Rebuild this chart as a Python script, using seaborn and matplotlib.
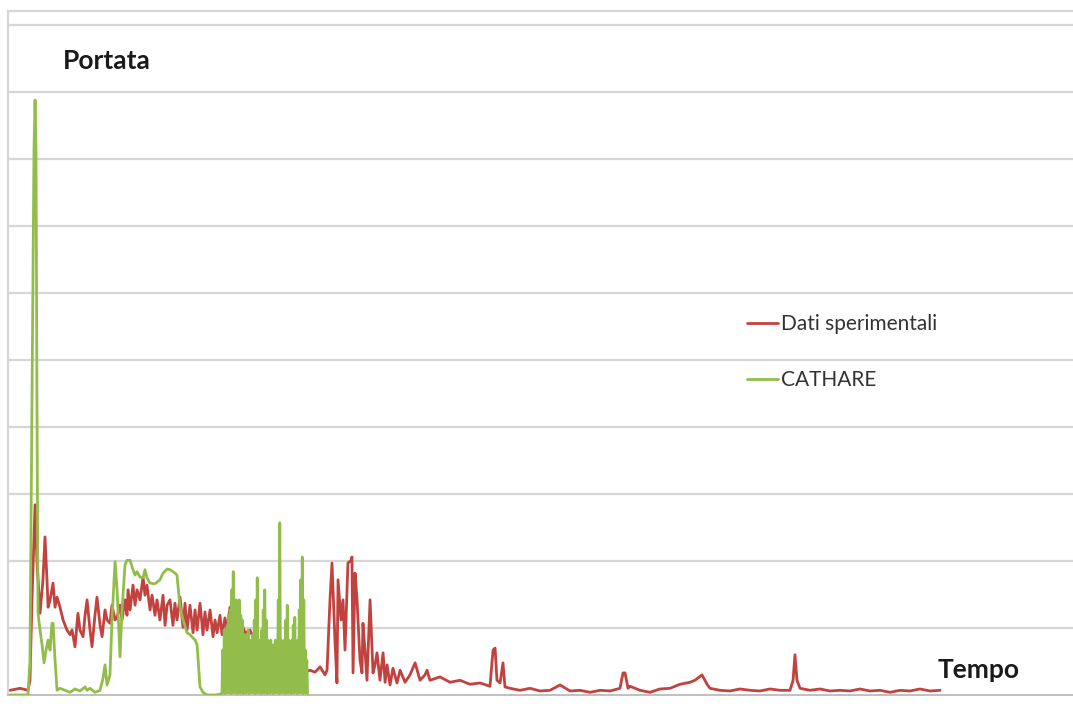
import numpy as np
import pandas as pd
import matplotlib
matplotlib.use("Agg")
import matplotlib.pyplot as plt
import seaborn as sns
from matplotlib.lines import Line2D

# ---------------- data (time in s, ticks every 100 s; portata in grid units) ----------------
dati_t = [0, 7.5, 13.4, 14.9, 16.4, 18.7, 20.1, 22.4, 24.6, 26.1, 27.6, 28.4, 29.9, 32.1, 33.6,
          35.1, 37.3, 39.6, 42.5, 44.8, 46.3, 48.5, 50.7, 52.2, 54.5, 56.0, 57.5, 59.7, 61.2,
          63.4, 64.9, 67.2, 68.7, 70.9, 72.4, 74.6, 76.1, 78.4, 79.9, 82.1, 83.6, 85.8, 87.3,
          88.1, 89.6, 91.8, 93.3, 94.8, 97.0, 99.3, 100.7, 102.2, 104.5, 106.0, 108.2, 109.7,
          111.9, 114.2, 115.7, 117.2, 119.4, 121.6, 123.1, 124.6, 126.9, 129.1, 130.6, 132.1,
          134.3, 136.6, 138.1, 139.6, 141.8, 144.0, 145.5, 147.0, 149.3, 151.5, 153.0, 154.5,
          156.7, 158.2, 160.4, 161.9, 164.2, 166.4, 167.9, 169.4, 171.6, 173.9, 175.4, 176.9,
          179.1, 181.3, 182.8, 184.3, 186.6, 190.3, 194.0, 197.8, 201.5, 205.2, 209.0, 212.7,
          216.4, 220.1, 223.9, 227.6, 231.4, 235.1, 236.6, 238.8, 240.3, 242.5, 244.0, 244.8,
          247.0, 248.5, 250.0, 252.2, 254.5, 255.2, 256.0, 257.5, 259.0, 259.7, 261.2, 262.7,
          263.4, 264.9, 266.4, 268.7, 270.9, 272.4, 273.9, 276.1, 278.4, 279.9, 281.4, 283.6,
          285.8, 288.8, 291.1, 294.8, 298.5, 302.3, 306.0, 309.7, 311.2, 313.4, 320.9, 328.4,
          335.8, 343.3, 350.8, 358.2, 360.5, 362.0, 363.4, 365.7, 367.9, 369.4, 373.2, 380.6,
          388.1, 395.5, 403.0, 410.5, 417.9, 425.4, 432.9, 440.3, 447.8, 455.2, 457.5, 459.0,
          461.2, 462.7, 470.2, 477.6, 485.1, 492.6, 500.0, 507.5, 511.2, 516.4, 520.2, 522.4,
          529.9, 537.3, 544.8, 552.3, 559.7, 567.2, 574.7, 582.1, 584.4, 585.8, 587.3, 589.6,
          597.0, 604.5, 611.9, 619.4, 626.9, 634.3, 641.8, 649.3, 656.7, 664.2, 671.7, 679.1,
          686.6, 694.1]
dati_v = [0.07, 0.10, 0.07, 0.22, 1.42, 2.84, 2.01, 1.22, 1.72, 2.36, 1.72, 1.31, 1.42, 1.67, 1.31,
          1.46, 1.31, 1.12, 0.97, 0.90, 0.97, 0.72, 1.22, 0.97, 0.87, 1.19, 1.42, 0.97, 0.72,
          1.19, 1.46, 1.04, 0.87, 1.27, 1.12, 1.07, 1.34, 1.12, 1.16, 1.34, 1.12, 1.42, 1.19,
          1.57, 1.27, 1.64, 1.34, 1.57, 1.42, 1.76, 1.49, 1.64, 1.27, 1.49, 1.19, 1.42,
          1.12, 1.49, 1.04, 1.34, 1.42, 1.04, 1.37, 1.12, 1.46, 1.01, 1.37, 0.97,
          1.34, 0.93, 1.27, 0.97, 1.37, 0.90, 1.24, 0.97, 1.27, 0.87, 1.12, 0.93,
          1.19, 0.90, 1.15, 0.97, 1.31, 0.90, 1.24, 0.82, 1.12, 1.01, 0.93, 0.94,
          0.97, 0.87, 0.93, 0.82, 0.52, 0.45, 0.40, 0.34, 0.33, 0.34, 0.37, 0.34,
          0.30, 0.34, 0.37, 0.34, 0.42, 0.30, 0.37, 1.42, 1.97, 0.82, 0.18, 1.72,
          1.12, 1.42, 0.67, 1.97, 2.01, 2.06, 0.33, 1.82, 1.42, 1.12, 0.52, 0.33,
          1.07, 0.67, 0.22, 1.42, 0.33, 0.45, 0.63, 0.22, 0.63, 0.19, 0.45, 0.15,
          0.40, 0.18, 0.37, 0.19, 0.30, 0.48, 0.22, 0.30, 0.37, 0.22, 0.27, 0.19,
          0.22, 0.16, 0.18, 0.13, 0.67, 0.70, 0.22, 0.18, 0.48, 0.12, 0.10, 0.07,
          0.10, 0.06, 0.07, 0.15, 0.06, 0.07, 0.04, 0.07, 0.06, 0.10, 0.33, 0.33,
          0.10, 0.13, 0.07, 0.04, 0.09, 0.10, 0.16, 0.19, 0.22, 0.30, 0.16, 0.10,
          0.07, 0.06, 0.09, 0.07, 0.06, 0.09, 0.07, 0.07, 0.22, 0.60, 0.22, 0.10,
          0.07, 0.09, 0.06, 0.07, 0.06, 0.09, 0.06, 0.07, 0.04, 0.07, 0.06, 0.09,
          0.06, 0.07]

cathare_t = [0, 13.4, 14.9, 16.4, 17.9, 18.7, 19.4, 20.1, 20.9, 22.4, 23.9, 25.4, 26.9, 28.4,
             29.9, 31.3, 32.1, 33.6, 35.1, 37.3, 41.0, 44.8, 48.5, 52.2, 56.0, 57.5, 59.7,
             63.4, 67.2, 69.4, 70.9, 72.4, 74.6, 76.1, 78.4, 79.9, 82.1, 83.6, 85.8, 87.3,
             89.6, 91.8, 93.3, 94.8, 97.0, 99.3, 100.7, 102.2, 104.5, 108.2, 111.9, 114.2,
             117.2, 119.4, 123.1, 124.6, 126.9, 129.1, 132.1, 134.3, 138.1, 139.6, 141.8,
             144.0, 147.0, 153.0, 156.7]
cathare_v = [0, 0, 0.52, 4.40, 8.13, 8.88, 8.13, 4.40, 1.22, 0.97, 0.75, 0.48, 0.67, 0.82,
             0.67, 1.07, 1.07, 0.52, 0.07, 0.10, 0.07, 0.04, 0.09, 0.06, 0.12, 0.07, 0.10,
             0.04, 0.07, 0.25, 0.45, 0.15, 0.30, 1.12, 1.99, 1.57, 0.57, 1.27, 1.94, 2.01,
             2.01, 1.87, 1.79, 1.84, 1.76, 1.75, 1.87, 1.75, 1.67, 1.66, 1.72, 1.82,
             1.88, 1.87, 1.82, 1.79, 1.31, 1.12, 0.93, 0.90, 0.82, 0.75, 0.12,
             0.04, 0, 0, 0.01]

# fast-oscillating CATHARE segment, sampled every 0.56 s from 158.2 s
cathare_burst_start = 158.2
cathare_burst_step = 0.56
cathare_burst_v = [0.03, 0.67, 0.05, 0.97, 0.02, 0.82, 0.04, 1.04, 0.03, 1.19, 0.06, 1.27,
                   0.02, 1.57, 0.04, 1.84, 0.03, 1.34, 0.05, 1.42, 0.02, 1.27, 0.04, 1.42,
                   0.03, 1.19, 0.06, 1.12, 0.02, 0.82, 0.04, 0.90, 0.03, 0.75, 0.05, 0.97,
                   0.02, 0.82, 0.04, 0.75, 0.03, 0.90, 0.06, 1.12, 0.02, 1.42, 0.04, 1.75,
                   0.03, 0.82, 0.05, 0.75, 0.02, 0.97, 0.04, 1.27, 0.03, 1.57, 0.06, 1.12,
                   0.02, 0.82, 0.04, 0.70, 0.03, 0.82, 0.05, 0.67, 0.02, 0.75, 0.04, 0.82,
                   0.03, 0.75, 0.06, 1.42, 0.02, 2.57, 0.04, 0.82, 0.03, 0.67, 0.05, 0.82,
                   0.02, 1.12, 0.04, 1.34, 0.03, 0.82, 0.06, 0.67, 0.02, 0.82, 0.04, 1.04,
                   0.03, 1.16, 0.05, 0.75, 0.02, 0.82, 0.04, 1.27, 0.03, 1.72, 0.06, 2.06,
                   0.02, 1.42, 0.04, 0.67, 0.03, 0.52, 0.02]

x_ticks = [0, 100, 200, 300, 400, 500, 600, 700]
y_grid = [1, 2, 3, 4, 5, 6, 7, 8, 9, 10]
legend_labels = ["Dati sperimentali", "CATHARE"]
y_title = "Portata"
x_title = "Tempo"

# ---------------- build tables ----------------
burst_t = cathare_burst_start + cathare_burst_step * np.arange(len(cathare_burst_v))
df_dati = pd.DataFrame({"t": dati_t, "v": dati_v})
df_cath = pd.DataFrame({"t": list(cathare_t) + list(burst_t),
                        "v": list(cathare_v) + list(cathare_burst_v)})

RED = "#C2423F"
GREEN = "#93BD4A"
GRID = "#D6D6D6"

sns.set_style("white")
plt.rcParams["font.family"] = ["Lato", "DejaVu Sans"]
plt.rcParams["path.simplify"] = False

fig = plt.figure(figsize=(10.73, 7.06), dpi=100)
ax = fig.add_axes([8 / 1073, 11 / 706, 1 - 8 / 1073, (695 - 11) / 706])

ax.set_xlim(-1.5, 793.3)
ax.set_ylim(0, 10.21)

for g in y_grid:
    ax.axhline(g, color=GRID, lw=1.6, zorder=0)

sns.lineplot(data=df_dati, x="t", y="v", ax=ax, color=RED, lw=2.0,
             sort=False, estimator=None, zorder=2)
sns.lineplot(data=df_cath, x="t", y="v", ax=ax, color=GREEN, lw=2.0,
             sort=False, estimator=None, zorder=3)

ax.set_xlabel("")
ax.set_ylabel("")
ax.set_xticks(x_ticks)
ax.set_xticklabels([])
ax.set_yticks([])
ax.tick_params(axis="x", direction="out", length=4, color="#BFBFBF", width=1)
ax.spines["right"].set_visible(False)
ax.spines["bottom"].set_color("#BFBFBF")
ax.spines["bottom"].set_linewidth(1.4)
ax.spines["top"].set_color(GRID)
ax.spines["top"].set_linewidth(1.6)
ax.spines["left"].set_color(GRID)
ax.spines["left"].set_linewidth(1.6)

fig.text(63 / 1073, (706 - 61) / 706, y_title, fontsize=19, fontweight="bold",
         color="#1A1A1A", va="center", ha="left")
fig.text(938 / 1073, (706 - 670) / 706, x_title, fontsize=19, fontweight="bold",
         color="#1A1A1A", va="center", ha="left")

handles = [Line2D([], [], color=RED, lw=2), Line2D([], [], color=GREEN, lw=2)]
fs = 15
fpx = fs * 100 / 72
leg = ax.legend(handles, legend_labels, loc="upper left",
                bbox_to_anchor=(747 / 1073, (706 - 314) / 706), bbox_transform=fig.transFigure,
                frameon=False, fontsize=fs, handlelength=31 / fpx, handletextpad=3 / fpx,
                labelspacing=(57 - fpx) / fpx, borderpad=0, borderaxespad=0)
for txt in leg.get_texts():
    txt.set_color("#333333")

fig.savefig("out.png", dpi=100, facecolor="white")
